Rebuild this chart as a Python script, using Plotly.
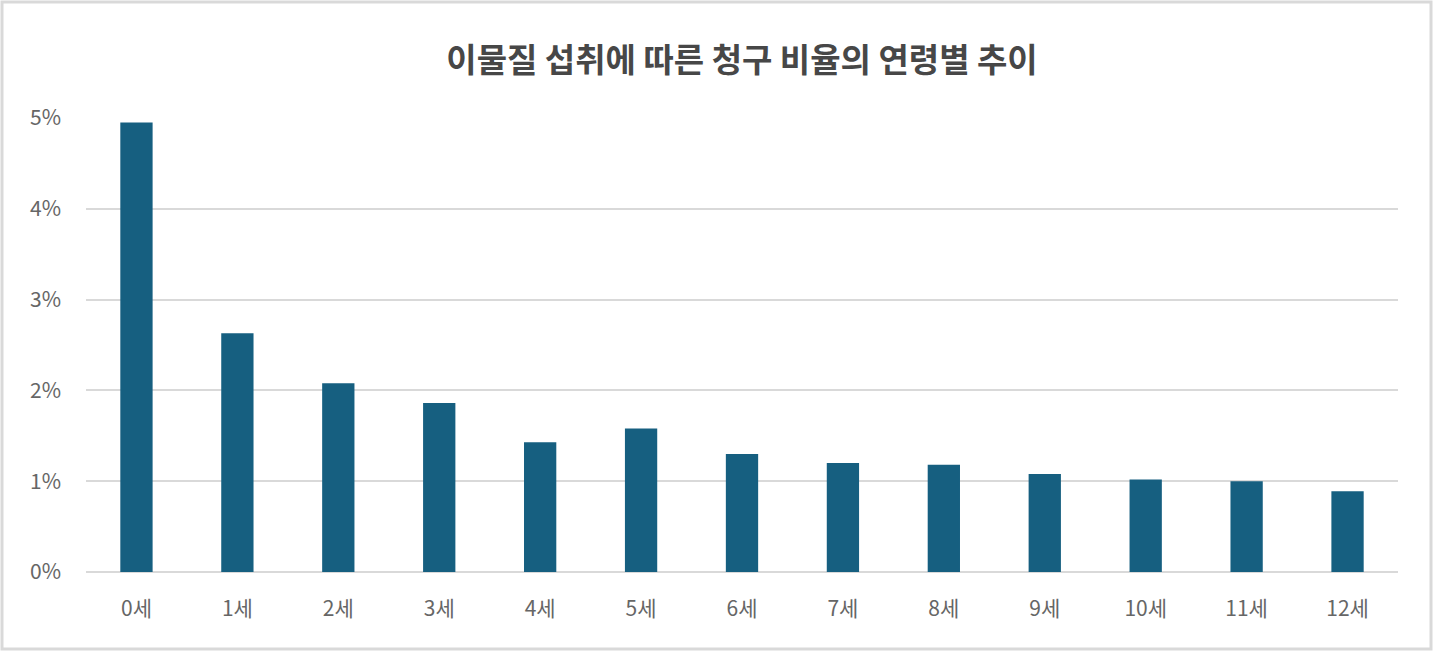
import plotly.graph_objects as go

ages = ["0세", "1세", "2세", "3세", "4세", "5세", "6세", "7세", "8세", "9세", "10세", "11세", "12세"]
claim_rate = [4.95, 2.63, 2.08, 1.86, 1.43, 1.58, 1.30, 1.20, 1.18, 1.08, 1.02, 1.00, 0.89]
y_ticks = [0, 1, 2, 3, 4, 5]
y_labels = ["0%", "1%", "2%", "3%", "4%", "5%"]

title_text = "이물질 섭취에 따른 청구 비율의 연령별 추이"
font_family = "Noto Sans CJK KR, Noto Sans, sans-serif"

fig = go.Figure(go.Bar(x=ages, y=claim_rate, marker_color="#165f80", marker_line_width=0))

W, H = 1434, 652
ml, mr, mt, mb = 86, 36, 118, 80
pw, ph = W - ml - mr, H - mt - mb

fig.update_layout(
    width=W, height=H,
    margin=dict(l=ml, r=mr, t=mt, b=mb),
    paper_bgcolor="white", plot_bgcolor="white",
    bargap=0.68,
    showlegend=False,
    font=dict(family=font_family, color="#595959", size=21),
    title=dict(text="<b>" + title_text + "</b>", x=0.5, xanchor="center",
               xref="paper",
               y=1 - 60 / H, yanchor="middle",
               font=dict(size=33, color="#474747", family=font_family)),
)
fig.update_xaxes(showgrid=False, showline=False, ticks="", ticklabelstandoff=22,
                 tickfont=dict(size=21, color="#666666"))
fig.update_yaxes(range=[0, 5], tickvals=y_ticks, ticktext=y_labels, showgrid=True,
                 gridcolor="#d9d9d9", gridwidth=1.5, zeroline=True, zerolinecolor="#d9d9d9",
                 zerolinewidth=1.5, showline=False, ticks="", ticklabelstandoff=24,
                 tickfont=dict(size=21, color="#666666"))

# light frame around the whole picture
fig.add_shape(type="rect", xref="paper", yref="paper",
              x0=(2 - ml) / pw, x1=(W - 3 - ml) / pw,
              y0=-(mb - 3) / ph, y1=1 + (mt - 2) / ph,
              line=dict(color="#d9d9d9", width=3), fillcolor="rgba(0,0,0,0)", layer="below")

# page body has a default margin; remove it so the figure sits at the window origin
fig.write_html("out.html", config={"displayModeBar": False},
               post_script="document.body.style.margin='0';document.body.style.overflow='hidden';")
